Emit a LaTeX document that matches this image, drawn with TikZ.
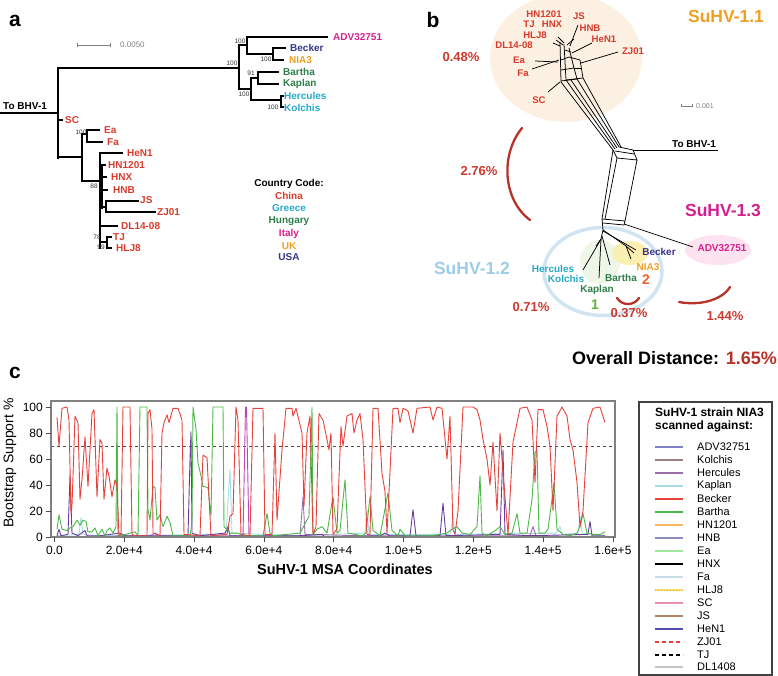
\documentclass[tikz,border=0pt]{standalone}
\usepackage{fontspec}
\setmainfont{Liberation Sans}
\newcommand\setfz[1]{\fontsize{#1}{#1}\selectfont}
\definecolor{cnred}{HTML}{D93A2B}
\definecolor{arcred}{HTML}{B83228}
\definecolor{pctred}{HTML}{CC3A2E}
\definecolor{cnmag}{HTML}{D4218D}
\definecolor{cnblue}{HTML}{35358C}
\definecolor{cnorange}{HTML}{F0A020}
\definecolor{cngreen}{HTML}{2D7F4A}
\definecolor{cncyan}{HTML}{25A8C8}
\definecolor{beige}{HTML}{FBF0E2}
\definecolor{ringblue}{HTML}{D0E5F1}
\definecolor{suhvblue}{HTML}{9DCDE6}
\definecolor{paleyel}{HTML}{FCEFB2}
\definecolor{palepink}{HTML}{FCE3EF}
\definecolor{palegreen}{HTML}{EEF6E8}
\definecolor{onegreen}{HTML}{5CB531}
\definecolor{twoorange}{HTML}{E8612C}
\definecolor{lgadv}{HTML}{8080C4}
\definecolor{lgkol}{HTML}{9A8080}
\definecolor{lgher}{HTML}{9B6FA5}
\definecolor{lgkap}{HTML}{A8DDE8}
\definecolor{lgbec}{HTML}{E8403A}
\definecolor{lgbar}{HTML}{4CB848}
\definecolor{lghn}{HTML}{F5B860}
\definecolor{lghnb}{HTML}{8C8CC0}
\definecolor{lgea}{HTML}{A0E8A0}
\definecolor{lgfa}{HTML}{C8DCE8}
\definecolor{lghlj}{HTML}{F3E070}
\definecolor{lgsc}{HTML}{E890B0}
\definecolor{lgjs}{HTML}{B08868}
\definecolor{lghen}{HTML}{5050AC}
\definecolor{lgdl}{HTML}{C4C4C4}
\definecolor{lgdkp}{HTML}{6A3D9A}
\definecolor{lgmag}{HTML}{B848B8}
\begin{document}
\begin{tikzpicture}[x=1pt,y=-1pt,
  tree/.style={line width=1.1pt,black,line cap=rect},
  net/.style={line width=0.75pt,black},
  lbl/.style={inner sep=0pt,anchor=west,font=\setfz{10}\bfseries},
  clbl/.style={inner sep=0pt,font=\setfz{10}\bfseries},
  nlbl/.style={inner sep=0pt,font=\setfz{9.6}\bfseries,text=cnred},
  boot/.style={inner sep=0pt,font=\setfz{6.5},text=black!80},
  pct/.style={inner sep=0pt,font=\setfz{13}\bfseries,text=pctred},
  bigl/.style={inner sep=0pt,font=\setfz{17.5}\bfseries},
  panel/.style={inner sep=0pt,font=\setfz{21}\bfseries},
  distarc/.style={line width=2.3pt,draw=arcred,line cap=round},
  tick/.style={inner sep=0pt,font=\setfz{12}},
  curve/.style={line width=0.9pt,line join=round},
  legline/.style={line width=1.3pt},
  legtxt/.style={inner sep=0pt,anchor=west,font=\setfz{11}}
]
\useasboundingbox (0,0) rectangle (778,676);

%%%%%%%%%%%%%%%% Panel a
\node[panel] (pa) at (15,21) {a};
\draw[gray,line width=0.9pt] (77,45) -- (110,45);
\draw[gray,line width=0.9pt] (77,43) -- (77,47) (110,43) -- (110,47);
\node[inner sep=0pt,anchor=west,font=\setfz{8},text=gray] (sba) at (120,45) {0.0050};

\draw[tree] (0,113) -- (58,113);
\draw[tree] (58,68) -- (58,158);
\draw[tree] (58,68) -- (239,68);
\draw[tree] (239,45) -- (239,89);
\draw[tree] (239,45) -- (247,45);
\draw[tree] (247,37) -- (247,54);
\draw[tree] (247,37) -- (327,37);
\draw[tree] (247,54) -- (273,54);
\draw[tree] (273,48) -- (273,60);
\draw[tree] (273,48) -- (285,48);
\draw[tree] (273,60) -- (283,60);
\draw[tree] (239,89) -- (251,89);
\draw[tree] (251,78) -- (251,100);
\draw[tree] (251,78) -- (258,78);
\draw[tree] (258,72) -- (258,84);
\draw[tree] (258,72) -- (278,72);
\draw[tree] (258,84) -- (278,84);
\draw[tree] (251,100) -- (281,100);
\draw[tree] (281,96) -- (281,107);
\draw[tree] (281,96) -- (283,96);
\draw[tree] (281,107) -- (283,107);

\draw[tree] (58,120) -- (62,120);
\draw[tree] (58,157) -- (82,157);
\draw[tree] (82,134) -- (82,181);
\draw[tree] (82,134) -- (87,134);
\draw[tree] (87,130) -- (87,142);
\draw[tree] (87,130) -- (99,130);
\draw[tree] (87,142) -- (102,142);
\draw[tree] (82,181) -- (100,181);
\draw[tree] (100,153) -- (100,248);
\draw[line width=3pt] (101,164) -- (101,209);
\draw[tree] (100,153) -- (122,153);
\draw[tree] (100,165) -- (105,165);
\draw[tree] (101,177) -- (106,177);
\draw[tree] (101,190) -- (107,190);
\draw[tree] (101,207) -- (106,207);
\draw[tree] (106,201) -- (106,212);
\draw[tree] (106,201) -- (138,201);
\draw[tree] (106,212) -- (155,212);
\draw[tree] (101,226) -- (117,226);
\draw[tree] (100,242) -- (107,242);
\draw[tree] (107,237) -- (107,248);
\draw[tree] (107,237) -- (111,237);
\draw[tree] (107,248) -- (111,248);

\node[lbl,anchor=base west] (tobhva) at (3,110) {To BHV-1};
\node[lbl,text=cnmag] (a1) at (333,37) {ADV32751};
\node[lbl,text=cnblue] (a2) at (290,48) {Becker};
\node[lbl,text=cnorange] (a3) at (289,60) {NIA3};
\node[lbl,text=cngreen] (a4) at (283,72) {Bartha};
\node[lbl,text=cngreen] (a5) at (283,84) {Kaplan};
\node[lbl,text=cncyan] (a6) at (284,96) {Hercules};
\node[lbl,text=cncyan] (a7) at (284,108) {Kolchis};
\node[lbl,text=cnred] (a8) at (65,120) {SC};
\node[lbl,text=cnred] (a9) at (104,130) {Ea};
\node[lbl,text=cnred] (a10) at (107,142) {Fa};
\node[lbl,text=cnred] (a11) at (127,153) {HeN1};
\node[lbl,text=cnred] (a12) at (108,165) {HN1201};
\node[lbl,text=cnred] (a13) at (111,177) {HNX};
\node[lbl,text=cnred] (a14) at (113,190) {HNB};
\node[lbl,text=cnred] (a15) at (140,200) {JS};
\node[lbl,text=cnred] (a16) at (157,212) {ZJ01};
\node[lbl,text=cnred] (a17) at (121,226) {DL14-08};
\node[lbl,text=cnred] (a18) at (113,237) {TJ};
\node[lbl,text=cnred] (a19) at (116,248) {HLJ8};

\node[boot] (b1) at (240,41) {100};
\node[boot] (b2) at (232,63) {100};
\node[boot] (b3) at (266,59) {100};
\node[boot] (b4) at (251,73) {91};
\node[boot] (b5) at (244,94) {100};
\node[boot] (b6) at (273,107) {100};
\node[boot] (b7) at (81,132) {100};
\node[boot] (b8) at (94,186) {88};
\node[boot] (b9) at (97,237) {78};
\node[boot] (b10) at (101,247) {99};

\node[clbl] (cc) at (289,184) {Country Code:};
\node[clbl,text=cnred] (c1) at (289,196) {China};
\node[clbl,text=cncyan] (c2) at (289,208) {Greece};
\node[clbl,text=cngreen] (c3) at (289,221) {Hungary};
\node[clbl,text=cnmag] (c4) at (289,234) {Italy};
\node[clbl,text=cnorange] (c5) at (289,246) {UK};
\node[clbl,text=cnblue] (c6) at (289,257) {USA};

%%%%%%%%%%%%%%%% Panel b
\fill[beige] (566,58) ellipse [x radius=76, y radius=64];
\fill[palegreen] (600,262) ellipse [x radius=20, y radius=22];
\draw[ringblue,line width=3.5pt] (603,271.5) ellipse [x radius=59, y radius=44];
\fill[paleyel] (630,253) ellipse [x radius=18, y radius=12];
\fill[palepink] (718,250) ellipse [x radius=33, y radius=15];

\node[panel] (pb) at (433,20) {b};
\node[bigl,text=cnorange] (s11) at (726,16) {SuHV-1.1};
\node[bigl,text=cnmag] (s13) at (723,210) {SuHV-1.3};
\node[bigl,text=suhvblue] (s12) at (472,268) {SuHV-1.2};

\draw[gray,line width=0.9pt] (681,106) -- (692,106);
\draw[gray,line width=0.8pt] (681,104.5) -- (681,107.5) (692,104.5) -- (692,107.5);
\node[inner sep=0pt,anchor=west,font=\setfz{7},text=gray] (sbb) at (696,106) {0.001};

% network: upper cluster
\draw[net] (560,42) -- (561,82);
\draw[net] (564,44) -- (566,80);
\draw[net] (569,48) -- (574,68) -- (577,79);
\draw[net] (580,60) -- (583,78);
\draw[net] (561,60) -- (569,57);
\draw[net] (561,70) -- (574,68);
\draw[net] (561,81) -- (577,79);
\draw[net] (569,57) -- (580,60);
\draw[net] (574,68) -- (581,68);
\draw[net] (565,50) -- (571,52);
\draw[net] (583,78) -- (566,80);
% bundle
\draw[net] (561,82) -- (613,150);
\draw[net] (566,80) -- (615,149);
\draw[net] (571,80) -- (617,148);
\draw[net] (577,79) -- (619,147);
\draw[net] (583,78) -- (621,147);
% upper box
\draw[net] (613,150) -- (617,158);
\draw[net] (619,147) -- (633,150) -- (637,160) -- (617,158);
\draw[net] (615,151) -- (634,154);
\draw[net] (633,150) -- (718,150);
% long reticulation
\draw[net] (613,150) -- (602,219);
\draw[net] (617,158) -- (605,219);
\draw[net] (637,160) -- (625,221);
% lower box
\draw[net] (602,219) -- (625,221);
\draw[net] (603,223) -- (624,225);
\draw[net] (625,221) -- (624,225);
\draw[net] (602,219) -- (603,230);
\draw[net] (624,224) -- (693,247);
% lower tips
\draw[net] (603,230) -- (626,246) -- (634,253);
\draw[net] (626,246) -- (631,259);
\draw[net] (603,231) -- (636,250);
\draw[net] (603,230) -- (601,239);
\draw[net] (601,239) -- (583,270);
\draw[net] (601,239) -- (599,278);
\draw[net] (602,236) -- (610,265);
\draw[net] (601,239) -- (596,246);
% upper tips
\draw[net] (560,82) -- (548,92);
\draw[net] (559,60) -- (532,69);
\draw[net] (558,62) -- (535,61);
\draw[net] (581,63) -- (618,52);
\draw[net] (572,53) -- (592,43);
\draw[net] (570,46) -- (578,25);
\draw[net] (567,45) -- (574,39);
\draw[net] (556,40) -- (563,45);
\draw[net] (558,37) -- (564,43);
\draw[net] (553,43) -- (560,46);

% labels b
\node[nlbl] (n1) at (544,14) {HN1201};
\node[nlbl] (n2) at (579,16) {JS};
\node[nlbl] (n3) at (529,24) {TJ};
\node[nlbl] (n4) at (552,24) {HNX};
\node[nlbl] (n5) at (590,28) {HNB};
\node[nlbl] (n6) at (535,35) {HLJ8};
\node[nlbl] (n7) at (604,39) {HeN1};
\node[nlbl] (n8) at (514,45.5) {DL14-08};
\node[nlbl] (n9) at (633,51) {ZJ01};
\node[nlbl] (n10) at (519,60) {Ea};
\node[nlbl] (n11) at (523,73) {Fa};
\node[nlbl] (n12) at (539,100) {SC};
\node[lbl,anchor=base west] (tobhvb) at (672,148) {To BHV-1};
\node[clbl,text=cnmag] (n13) at (722,248) {ADV32751};
\node[clbl,text=cnblue] (n14) at (659,252) {Becker};
\node[clbl,text=cnorange] (n15) at (648,267) {NIA3};
\node[clbl,text=cngreen] (n16) at (621,278) {Bartha};
\node[clbl,text=cngreen] (n17) at (597,290) {Kaplan};
\node[clbl,text=cncyan] (n18) at (553,269) {Hercules};
\node[clbl,text=cncyan] (n19) at (566,279) {Kolchis};
\node[inner sep=0pt,font=\setfz{14}\bfseries,text=onegreen] (g1) at (595,305) {1};
\node[inner sep=0pt,font=\setfz{14}\bfseries,text=twoorange] (g2) at (646,280) {2};

\node[pct] (p1) at (461,57) {0.48\%};
\node[pct] (p2) at (479,171) {2.76\%};
\node[pct] (p3) at (531,307) {0.71\%};
\node[pct] (p4) at (629,313) {0.37\%};
\node[pct] (p5) at (725,316) {1.44\%};
\draw[distarc] (522,128) .. controls (500,155) and (503,200) .. (530,220);
\draw[distarc] (617,298) .. controls (622,306) and (634,306) .. (639,298);
\draw[distarc] (679,302) .. controls (700,306) and (722,300) .. (730,287);
\node[inner sep=0pt,anchor=east,font=\setfz{18}\bfseries] (od) at (777,358) {Overall Distance: \textcolor{arcred}{1.65\%}};

%%%%%%%%%%%%%%%% Panel c
\node[panel] (pc) at (15,373) {c};
\draw[gray!60!black,dashed,line width=0.8pt] (51,446) -- (615,446);
\begin{scope}[yshift=-537pt,y=1.3pt]
\draw[curve,lgkap] plot coordinates {(57,1) (79,2) (81,15) (83,2) (100,1) (226,2) (229,40) (230,52) (232,3) (300,1) (365,3) (367,21) (369,2) (450,2) (453,15) (455,2) (556,3) (560,8) (562,2) (578,3) (580,16) (582,3) (605,1)};
\draw[curve,lgher] plot coordinates {(57,0) (150,1) (155,3) (160,1) (300,1) (302,20) (303,31) (305,2) (360,1) (530,1) (533,8) (536,1) (605,0)};
\draw[curve,lgmag] plot coordinates {(243,0) (245.5,100) (246.5,100) (249,0)};
\draw[curve,lgdkp] plot coordinates {(57,1) (59,6) (61,1) (68,2) (70,47) (72,3) (78,1) (85,5) (87,1) (100,1) (120,3) (125,1) (188,1) (190,60) (191,81) (192,3) (200,1) (225,3) (228,8) (230,1) (300,1) (322,2) (325,0) (380,1) (385,3) (390,1) (410,1) (413,21) (416,1) (440,1) (443,26) (446,1) (500,2) (503,67) (505,2) (530,1) (588,2) (590,12) (592,1) (605,1)};
\draw[curve,lgbar] plot coordinates {(57,6) (59,17) (62,6) (67,5) (70,7) (73,8) (77,13) (80,9) (83,13) (86,12) (88,4) (92,4) (95,7) (98,1) (102,6) (105,1) (107,5) (110,7) (113,3) (116,8) (117,100) (118,1) (121,1) (135,4) (138,1) (140,100) (147,100) (148,21) (150,13) (153,39) (155,38) (157,13) (160,17) (163,8) (167,16) (170,11) (173,1) (190,1) (192,11) (193,100) (196,83) (198,57) (201,47) (203,39) (208,38) (211,16) (213,100) (223,100) (224,8) (230,3) (237,3) (245,1) (263,1) (267,18) (270,3) (273,1) (300,3) (309,16) (312,100) (313,2) (317,6) (322,8) (327,3) (333,31) (337,3) (340,5) (345,44) (348,3) (362,1) (366,3) (370,31) (373,5) (380,1) (388,34) (392,5) (398,1) (400,6) (405,1) (430,1) (440,2) (447,3) (452,6) (457,8) (462,3) (470,2) (477,8) (480,47) (482,3) (487,1) (497,6) (500,8) (505,2) (512,3) (517,18) (520,3) (527,3) (532,29) (535,65) (537,67) (539,3) (545,3) (548,6) (552,29) (554,42) (557,6) (563,2) (570,1) (577,3) (580,8) (583,18) (587,3) (593,2) (600,2) (603,3) (605,4)};
\draw[curve,lgbec] plot coordinates {(57,92) (59,70) (62,99) (67,100) (69,90) (71,18) (72,24) (75,93) (78,88) (80,29) (82,44) (85,77) (88,39) (92,95) (94,98) (97,31) (100,75) (102,72) (104,29) (107,53) (109,47) (112,31) (115,44) (117,39) (119,1) (121,2) (123,100) (130,100) (132,2) (135,1) (147,1) (148,95) (150,98) (152,83) (153,3) (160,1) (162,80) (164,88) (167,94) (169,88) (173,99) (178,99) (182,90) (184,2) (200,1) (203,63) (207,61) (211,1) (227,2) (230,16) (233,18) (236,100) (238,90) (241,2) (250,1) (253,99) (263,99) (265,2) (272,2) (275,80) (277,13) (282,67) (286,99) (292,99) (293,93) (296,99) (302,80) (304,24) (307,80) (310,93) (313,2) (316,8) (319,95) (323,90) (327,75) (329,67) (331,80) (333,2) (337,6) (341,85) (343,70) (347,93) (352,95) (354,80) (357,90) (360,95) (363,75) (367,2) (370,2) (373,99) (378,99) (382,49) (385,35) (387,3) (390,50) (393,99) (398,99) (400,88) (403,99) (408,97) (413,80) (417,99) (430,100) (433,90) (437,100) (442,99) (447,60) (450,93) (453,5) (455,2) (458,20) (463,100) (473,100) (477,98) (480,90) (483,75) (487,60) (490,40) (493,73) (497,20) (500,80) (503,50) (508,2) (513,73) (520,99) (527,100) (532,90) (535,42) (538,98) (543,98) (547,85) (550,70) (553,20) (557,93) (562,100) (567,93) (570,75) (573,67) (577,42) (580,8) (583,20) (588,88) (593,99) (600,100) (605,88)};
\end{scope}
\draw[gray,line width=1.6pt] (51,401) rectangle (615,537);
\foreach \yy/\vv in {407/100,433/80,459/60,485/40,511/20,537/0} {
  \draw[gray!60!black,line width=0.8pt] (46,\yy) -- (51,\yy);
  \node[tick,anchor=east] (yt\vv) at (43,\yy) {\vv};
}
\foreach \xx/\tt [count=\k] in {54.5/0.0,124.3/2.0e+4,194.1/4.0e+4,263.9/6.0e+4,333.7/8.0e+4,403.5/1.0e+5,473.3/1.2e+5,543.1/1.4e+5,612.9/1.6e+5} {
  \draw[gray!60!black,line width=0.8pt] (\xx,537) -- (\xx,542);
  \node[tick] (xt\k) at (\xx,550) {\tt};
}
\node[inner sep=0pt,rotate=90,font=\setfz{14}] (ylab) at (10,463) {Bootstrap Support \%};
\node[inner sep=0pt,font=\setfz{14.5}\bfseries] (xlab) at (345,569) {SuHV-1 MSA Coordinates};

% legend
\draw[black!75,line width=1.3pt] (639,402) rectangle (772,675);
\node[inner sep=0pt,anchor=west,font=\setfz{12}\bfseries] (lt1) at (655,412) {SuHV-1 strain NIA3};
\node[inner sep=0pt,anchor=west,font=\setfz{12}\bfseries] (lt2) at (655,426) {scanned against:};
\foreach \yy/\cc/\nn in {447/lgadv/ADV32751,460/lgkol/Kolchis,473/lgher/Hercules,486/lgkap/Kaplan,499/lgbec/Becker,512/lgbar/Bartha,525/lghn/HN1201,538/lghnb/HNB,551/lgea/Ea,564/black/HNX,577/lgfa/Fa,603/lgsc/SC,616/lgjs/JS,629/lghen/HeN1,667/lgdl/DL1408} {
  \draw[legline,draw=\cc] (655,\yy) -- (683,\yy);
  \node[legtxt] (lg\yy) at (697,\yy) {\nn};
}
\draw[line width=2pt,draw=lghlj] (655,590) -- (683,590);
\draw[line width=1pt,draw=orange!70!yellow,dotted] (655,590) -- (683,590);
\node[legtxt] (lg590) at (697,590) {HLJ8};
\draw[legline,draw=lgbec,dash pattern=on 4pt off 3pt] (655,642) -- (683,642);
\node[legtxt] (lg642) at (697,642) {ZJ01};
\draw[legline,draw=black,dash pattern=on 4pt off 3pt] (655,655) -- (683,655);
\node[legtxt] (lg655) at (697,655) {TJ};
\end{tikzpicture}
\end{document}
